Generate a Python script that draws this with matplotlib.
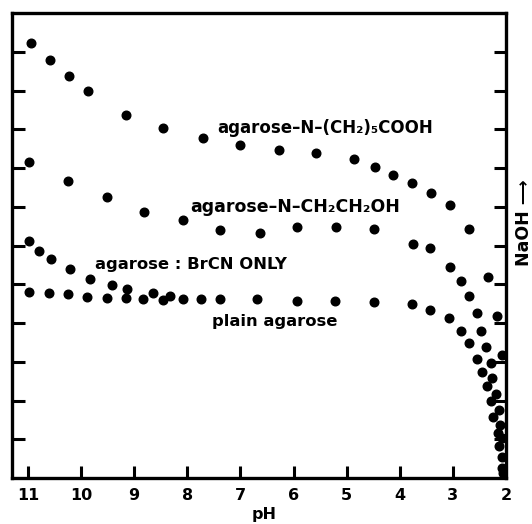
import matplotlib
matplotlib.use("Agg")
import matplotlib.pyplot as plt

# ---- data ----
cooh_ph = [10.94, 10.59, 10.23, 9.87, 9.15, 8.46, 7.70, 7.01, 6.27, 5.58, 4.86, 4.47,
           4.13, 3.77, 3.41, 3.05, 2.69, 2.34, 2.17, 2.07]
cooh_y = [11.23, 10.79, 10.37, 9.99, 9.37, 9.03, 8.77, 8.59, 8.46, 8.39, 8.23, 8.03,
          7.82, 7.61, 7.35, 7.05, 6.43, 5.19, 4.18, 3.17]

etoh_ph = [10.98, 10.25, 9.51, 8.82, 8.08, 7.38, 6.63, 5.93, 5.20, 4.48, 3.75, 3.43,
           3.05, 2.85, 2.69, 2.54, 2.47, 2.37, 2.28, 2.26, 2.19, 2.13, 2.11, 2.07, 2.07]
etoh_y = [8.15, 7.66, 7.25, 6.86, 6.66, 6.40, 6.32, 6.48, 6.48, 6.43, 6.04, 5.94,
          5.45, 5.08, 4.70, 4.26, 3.79, 3.38, 2.97, 2.58, 2.17, 1.75, 1.37, 1.03, 0.26]

brcn_ph = [10.98, 10.79, 10.57, 10.21, 9.83, 9.42, 9.14, 8.65, 8.33]
brcn_y = [6.12, 5.86, 5.65, 5.39, 5.14, 4.98, 4.88, 4.77, 4.70]

plain_ph = [10.98, 10.60, 10.25, 9.89, 9.51, 9.15, 8.83, 8.46, 8.08, 7.74, 7.38, 6.69,
            5.93, 5.22, 4.48, 3.77, 3.43, 3.07, 2.85, 2.69, 2.54, 2.45, 2.36, 2.28,
            2.24, 2.15, 2.13, 2.07, 2.05]
plain_y = [4.80, 4.77, 4.75, 4.67, 4.65, 4.65, 4.62, 4.59, 4.62, 4.62, 4.62, 4.62,
           4.57, 4.57, 4.54, 4.49, 4.34, 4.13, 3.79, 3.48, 3.07, 2.74, 2.37, 1.99,
           1.57, 1.16, 0.83, 0.54, 0.13]

x_ticks = [11, 10, 9, 8, 7, 6, 5, 4, 3, 2]
x_labels = ["11", "10", "9", "8", "7", "6", "5", "4", "3", "2"]
y_ticks = [1, 2, 3, 4, 5, 6, 7, 8, 9, 10, 11]

labels = ["agarose\u2013N\u2013(CH\u2082)\u2085COOH", "agarose\u2013N\u2013CH\u2082CH\u2082OH",
          "agarose : BrCN ONLY", "plain agarose"]
label_x = [7.44, 7.95, 9.74, 7.53]
label_y = [9.03, 6.99, 5.50, 4.03]
label_size = [12, 12.5, 11.8, 11.8]

# ---- figure ----
fig = plt.figure(figsize=(5.32, 5.24), dpi=100)
ax = fig.add_axes([12/532, 1-478/524, (506-12)/532, (478-13)/524])

for xs, ys in [(cooh_ph, cooh_y), (etoh_ph, etoh_y), (brcn_ph, brcn_y), (plain_ph, plain_y)]:
    ax.plot(xs, ys, linestyle="none", marker="o", ms=6.2, color="black")

ax.set_xlim(11.3, 2.0)
ax.set_ylim(0, 12)
ax.set_xticks(x_ticks)
ax.set_xticklabels(x_labels, fontsize=11.5, fontweight="bold")
ax.set_yticks(y_ticks)
ax.tick_params(axis="y", which="both", left=True, right=True, labelleft=False,
               direction="in", length=9, width=2.2)
ax.tick_params(axis="x", direction="in", length=9, width=2.2, pad=7)
for s in ax.spines.values():
    s.set_linewidth(2.4)

for t, x, y, fs in zip(labels, label_x, label_y, label_size):
    ax.text(x, y, t, ha="left", va="center", fontsize=fs, fontweight="bold",
            family="DejaVu Sans")

fig.text(264/532, 1-514/524, "pH", ha="center", va="center", fontsize=11.5, fontweight="bold")
fig.text(524/532, 1-223/524, "NaOH \u27f6", ha="center", va="center", rotation=90,
         fontsize=12.5, fontweight="bold")

fig.savefig("out.png", dpi=100)
